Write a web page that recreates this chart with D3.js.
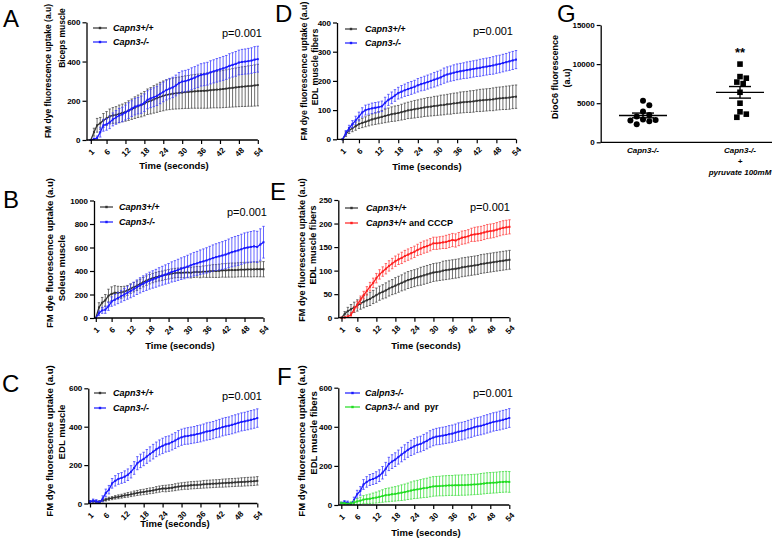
<!DOCTYPE html>
<html><head><meta charset="utf-8">
<script src="https://cdn.jsdelivr.net/npm/d3@7"></script>
<style>
body{margin:0;background:#fff}
svg{display:block}
text{font-family:"Liberation Sans",Arial,sans-serif}
</style>
</head><body>
<svg id="c" width="778" height="539"></svg>
<script>
// ---------- DATA ----------
const timePoints = d3.range(1, 55);
const xTickValues = [1,6,12,18,24,30,36,42,48,54];

// A: Biceps muscle
const bicepsWT   = [0,40,75,85,100,110,120,125,128,133, 138,143,150,157,165,172,178,185,195,200, 207,213,220,225,230,233,236,238,240,242, 244,245,247,248,249,250,251,252,254,256, 257,258,260,262,264,266,268,270,272,273, 275,276,278,280];
const bicepsWTsd = [0,20,35,30,35,35,38,40,42,45, 45,47,50,52,55,57,60,62,65,67, 70,72,74,76,77,78,79,80,81,82, 83,84,85,86,87,88,89,90,91,92, 93,94,95,96,97,98,99,100,101,102, 103,104,105,106];
const bicepsKO   = [0,5,10,40,75,80,90,105,115,125, 130,140,150,160,170,175,180,190,205,212, 218,225,235,245,255,262,268,278,290,298, 300,305,312,318,325,332,335,338,345,350, 355,360,365,370,378,383,388,395,398,400, 402,405,410,412];
const bicepsKOsd = [0,5,10,25,30,30,32,33,35,36, 37,38,40,40,42,42,44,45,46,47, 48,49,50,50,51,52,52,53,54,54, 55,55,56,56,57,57,58,58,59,59, 60,60,61,61,62,62,63,63,64,64, 65,65,66,66];

// B: Soleus muscle
const soleusWT   = [0,90,130,150,190,205,215,215,218,225, 235,250,262,275,290,305,318,330,340,348, 355,360,367,372,378,382,385,385,387,388, 385,390,393,390,395,395,398,400,400,402, 405,405,407,408,408,410,412,412,413,413, 414,415,415,415];
const soleusWTsd = [0,40,45,50,55,60,60,55,50,45, 42,40,40,40,40,40,40,40,40,40, 40,40,40,40,40,40,40,42,42,42, 44,45,46,47,48,50,52,54,55,56, 57,58,59,60,60,60,61,62,62,63, 63,64,64,65];
const soleusKO   = [0,40,65,70,100,140,155,170,185,200, 215,230,245,262,278,292,305,318,328,338, 350,360,370,380,392,400,410,420,428,438, 448,458,465,475,482,490,500,510,518,525, 532,540,550,560,568,575,585,595,600,605, 610,605,625,645];
const soleusKOsd = [0,20,25,30,35,40,45,48,50,52, 55,58,60,62,65,67,70,72,74,76, 78,80,82,84,86,88,90,92,94,96, 98,100,102,104,106,108,110,112,114,116, 118,120,122,124,126,127,128,129,130,131, 132,133,134,135];

// C: EDL muscle (KO series also shown in F)
const edlWT   = [10,12,8,10,15,20,25,28,32,35, 38,42,45,48,52,55,58,60,63,66, 68,72,75,78,78,80,82,85,88,90, 92,93,95,96,97,98,100,101,102,103, 104,105,106,107,108,109,110,111,112,113, 114,115,116,118];
const edlWTsd = [5,5,5,5,6,7,8,8,9,10, 10,11,12,12,13,13,14,14,15,15, 15,16,16,16,17,17,17,18,18,18, 18,19,19,19,19,19,20,20,20,20, 20,20,21,21,21,21,21,21,22,22, 22,22,22,22];
const edlKO   = [10,15,12,5,25,55,72,105,118,128, 133,140,150,165,185,210,222,232,245,258, 270,282,292,300,308,312,320,328,338,345, 350,352,355,358,362,365,370,375,378,382, 388,392,398,402,405,410,415,420,425,428, 432,436,440,445];
const edlKOsd = [5,8,8,8,15,20,22,25,27,28, 28,30,30,32,33,34,35,35,36,37, 38,38,39,40,40,40,41,41,42,42, 42,43,43,43,44,44,44,45,45,45, 45,46,46,46,46,47,47,47,47,47, 48,48,48,48];

// D: EDL muscle fibers
const fiberWT   = [0,18,30,38,45,52,56,60,64,68, 71,74,77,80,83,86,88,90,93,96, 99,101,103,105,107,109,111,112,114,115, 117,118,120,121,123,124,126,127,128,129, 130,132,133,134,135,136,137,139,140,141, 142,143,145,146];
const fiberWTsd = [0,8,10,12,14,15,16,17,18,19, 20,21,22,23,24,25,26,26,27,28, 28,29,30,30,31,31,32,32,33,33, 34,34,34,35,35,35,36,36,36,37, 37,37,38,38,38,38,39,39,39,39, 40,40,40,40];
const fiberKO   = [0,22,38,52,65,78,92,100,103,106, 108,110,113,125,135,142,150,158,163,168, 172,176,180,185,189,192,196,200,204,208, 212,218,222,225,228,231,233,235,237,239, 241,243,245,247,249,251,253,256,258,261, 264,267,270,273];
const fiberKOsd = [0,8,10,12,14,15,16,17,17,18, 18,18,18,19,19,20,20,20,21,21, 22,22,22,23,23,24,24,24,25,25, 25,26,26,26,27,27,27,27,28,28, 28,28,29,29,29,29,30,30,30,30, 30,31,31,31];

// E: CCCP
const ccWT    = [0,8,14,18,22,26,30,34,37,40, 44,48,52,55,58,62,65,68,71,74, 77,80,82,84,86,88,90,92,94,96, 97,98,100,101,102,103,104,105,107,108, 109,110,111,112,114,115,116,117,118,119, 120,121,122,123];
const ccWTsd  = [0,5,8,10,11,12,12,13,13,14, 14,15,15,15,16,16,16,17,17,17, 18,18,18,18,18,19,19,19,19,19, 19,19,20,20,20,20,20,20,20,20, 20,20,20,20,20,20,20,20,20,20, 20,20,20,20];
const ccCCCP   = [0,0,2,6,18,28,38,48,57,66, 74,84,92,98,104,110,115,120,124,127, 131,134,137,140,144,147,150,152,155,158, 158,159,160,161,163,165,164,167,170,171, 173,176,177,178,179,181,183,184,185,187, 189,191,192,193];
const ccCCCPsd = [0,2,3,5,6,7,8,8,9,9, 10,10,10,10,11,11,11,11,11,12, 12,12,12,12,12,13,13,13,13,13, 13,13,13,14,14,14,14,14,14,14, 14,14,15,15,15,15,15,15,15,15, 15,15,15,15];

// F: pyruvate
const pyrKO   = [10,8,5,8,12,18,22,28,30,32, 35,38,42,46,50,52,55,57,60,63, 66,70,74,78,80,83,86,88,92,95, 96,97,98,99,100,100,101,101,102,102, 103,104,105,106,108,110,112,113,114,115, 117,118,119,118];
const pyrKOsd = [5,5,5,8,10,14,18,20,22,24, 26,28,30,32,34,35,36,37,38,40, 41,42,44,45,46,47,48,49,50,50, 50,50,51,51,51,51,52,52,52,52, 52,52,52,52,53,53,53,53,53,53, 53,53,53,53];

// G: DioC6
const gCategories = ["Capn3-/-", "Capn3-/- + pyruvate 100mM"];
const gYTicks = [0, 5000, 10000, 15000];
const dioc6KO  = [5300,4750,3950,3500,3300,2900,2850,2800,2700,2300];
const dioc6Pyr = [10000,8400,8200,7700,7500,6400,5000,3900,3600,3200];

// ---------- DRAW ----------
const svg = d3.select("#c");
const FONT = '"Liberation Sans",Arial,sans-serif';
const C = {
  black: "#333333", blackBar: "#4a4a4a",
  blue: "#1a1aff", blueBar: "#4040ff",
  red: "#ff2020", redBar: "#ff4545",
  green: "#22dd22", greenBar: "#44e044"
};

const panels = [
  {letter:"A", lx:3, ly:27, axisX:86.5, x1:90.8, x54:257.8, y0:140, yTop:22.3, ymax:600, yticks:[0,200,400,600],
   t1:{x:48, y:71, fs:8.5}, t2:{x:61.5, y:38, text:"Biceps muscle"}, timeY:168.5, timeX:174,
   p:{x:262, y:37}, leg:{x1:93, x2:107, tx:113, ys:[28,42]},
   series:[{m:bicepsWT, s:bicepsWTsd, c:C.black, b:C.blackBar},{m:bicepsKO, s:bicepsKOsd, c:C.blue, b:C.blueBar}],
   legend:[[{t:"Capn3+/+", i:true}],[{t:"Capn3-/-", i:true}]]},
  {letter:"B", lx:3, ly:208, axisX:94, x1:95.8, x54:263.5, y0:318, yTop:200.5, ymax:1000, yticks:[0,200,400,600,800,1000],
   t1:{x:49.3, y:253, fs:9.5}, t2:{x:61.5, y:268, text:"Soleus muscle"}, timeY:348.5, timeX:180,
   p:{x:267, y:216}, leg:{x1:100, x2:113, tx:119, ys:[207,222]},
   series:[{m:soleusWT, s:soleusWTsd, c:C.black, b:C.blackBar},{m:soleusKO, s:soleusKOsd, c:C.blue, b:C.blueBar}],
   legend:[[{t:"Capn3+/+", i:true}],[{t:"Capn3-/-", i:true}]]},
  {letter:"C", lx:2, ly:392, axisX:88.3, x1:90, x54:257.3, y0:503.5, yTop:388.3, ymax:600, yticks:[0,200,400,600],
   t1:{x:49.3, y:441, fs:9.6}, t2:{x:61.5, y:432, text:"EDL muscle"}, timeY:526.5, timeX:175,
   p:{x:262, y:400}, leg:{x1:94, x2:106, tx:113, ys:[393,408]},
   series:[{m:edlWT, s:edlWTsd, c:C.black, b:C.blackBar},{m:edlKO, s:edlKOsd, c:C.blue, b:C.blueBar}],
   legend:[[{t:"Capn3+/+", i:true}],[{t:"Capn3-/-", i:true}]]},
  {letter:"D", lx:275, ly:22, axisX:337, x1:342.6, x54:516, y0:139.3, yTop:22.5, ymax:400, yticks:[0,100,200,300,400],
   t1:{x:303.5, y:71, fs:8.8}, t2:{x:315, y:67, text:"EDL muscle fibers"}, timeY:169.5, timeX:427,
   p:{x:513, y:35}, leg:{x1:345, x2:357, tx:365, ys:[29,43]},
   series:[{m:fiberWT, s:fiberWTsd, c:C.black, b:C.blackBar},{m:fiberKO, s:fiberKOsd, c:C.blue, b:C.blueBar}],
   legend:[[{t:"Capn3+/+", i:true}],[{t:"Capn3-/-", i:true}]]},
  {letter:"E", lx:270, ly:200, axisX:338.3, x1:341.5, x54:509.5, y0:317.7, yTop:200, ymax:250, yticks:[0,50,100,150,200,250],
   t1:{x:301.7, y:250, fs:9.1}, t2:{x:313.3, y:245, text:"EDL muscle fibers"}, timeY:348.5, timeX:426,
   p:{x:510, y:211}, leg:{x1:345, x2:358, tx:366, ys:[208,223]},
   series:[{m:ccWT, s:ccWTsd, c:C.black, b:C.blackBar},{m:ccCCCP, s:ccCCCPsd, c:C.red, b:C.redBar}],
   legend:[[{t:"Capn3+/+", i:true}],[{t:"Capn3+/+", i:true},{t:" and CCCP", i:false}]]},
  {letter:"F", lx:277, ly:385, axisX:338.3, x1:341.3, x54:509.3, y0:505, yTop:387.7, ymax:600, yticks:[0,200,400,600],
   t1:{x:301.7, y:441, fs:9.6}, t2:{x:313.3, y:433, text:"EDL muscle fibers"}, timeY:535.5, timeX:426,
   p:{x:513, y:397}, leg:{x1:345, x2:360, tx:365, ys:[393,407]},
   series:[{m:edlKO, s:edlKOsd, c:C.blue, b:C.blueBar},{m:pyrKO, s:pyrKOsd, c:C.green, b:C.greenBar}],
   legend:[[{t:"Calpn3-/-", i:true}],[{t:"Capn3-/-", i:true},{t:" and  pyr", i:false}]]}
];

function drawPanel(P) {
  const g = svg.append("g");
  const x = d3.scaleLinear().domain([1, 54]).range([P.x1, P.x54]);
  const y = d3.scaleLinear().domain([0, P.ymax]).range([P.y0, P.yTop]);

  // series
  P.series.forEach(S => {
    const pts = timePoints.map((t, i) => ({t, m: S.m[i], s: S.s[i]}));
    const eb = g.append("g").attr("stroke", S.b).attr("stroke-width", 0.8);
    eb.selectAll("line.v").data(pts).join("line")
      .attr("x1", d => x(d.t)).attr("x2", d => x(d.t))
      .attr("y1", d => y(Math.max(0, d.m - d.s))).attr("y2", d => y(d.m + d.s));
    eb.selectAll("line.t").data(pts).join("line")
      .attr("x1", d => x(d.t) - 1.2).attr("x2", d => x(d.t) + 1.2)
      .attr("y1", d => y(d.m + d.s)).attr("y2", d => y(d.m + d.s));
    eb.selectAll("line.b").data(pts.filter(d => d.m - d.s > 0)).join("line")
      .attr("x1", d => x(d.t) - 1.2).attr("x2", d => x(d.t) + 1.2)
      .attr("y1", d => y(d.m - d.s)).attr("y2", d => y(d.m - d.s));
    g.append("path").datum(pts)
      .attr("fill", "none").attr("stroke", S.c).attr("stroke-width", 1.3)
      .attr("d", d3.line().x(d => x(d.t)).y(d => y(d.m)));
    g.append("g").selectAll("rect").data(pts).join("rect")
      .attr("x", d => x(d.t) - 1).attr("y", d => y(d.m) - 1)
      .attr("width", 2).attr("height", 2).attr("fill", S.c);
  });

  // axes
  const ya = g.append("g").attr("transform", `translate(${P.axisX},0)`)
    .call(d3.axisLeft(y).tickValues(P.yticks).tickFormat(d3.format("d")).tickSize(4).tickSizeOuter(0).tickPadding(2));
  ya.select(".domain").attr("stroke-width", 1.3);
  ya.selectAll(".tick line").attr("stroke-width", 1.2);
  ya.selectAll("text").attr("font-size", 8).attr("font-weight", "bold").attr("font-family", FONT);

  const xa = g.append("g").attr("transform", `translate(0,${P.y0})`)
    .call(d3.axisBottom(x).tickValues(xTickValues).tickFormat(d3.format("d")).tickSize(4).tickSizeOuter(0));
  xa.select(".domain").remove();
  xa.selectAll(".tick line").attr("stroke-width", 1.2);
  xa.selectAll(".tick text")
    .attr("font-size", 8).attr("font-weight", "bold").attr("font-family", FONT)
    .attr("y", 0).attr("dy", "0.35em")
    .attr("text-anchor", "middle")
    .attr("transform", "translate(0,12) rotate(-45)");
  g.append("line").attr("x1", P.axisX).attr("x2", P.x54)
    .attr("y1", P.y0).attr("y2", P.y0).attr("stroke", "#000").attr("stroke-width", 1.3);

  // titles
  g.append("text").attr("transform", `translate(${P.t1.x},${P.t1.y}) rotate(-90)`)
    .attr("text-anchor", "middle").attr("dominant-baseline", "central")
    .attr("font-size", P.t1.fs).attr("font-weight", "bold").text("FM dye fluorescence uptake (a.u)");
  g.append("text").attr("transform", `translate(${P.t2.x},${P.t2.y}) rotate(-90)`)
    .attr("text-anchor", "middle").attr("dominant-baseline", "central")
    .attr("font-size", P.t1.fs).attr("font-weight", "bold").text(P.t2.text);
  g.append("text").attr("x", P.timeX).attr("y", P.timeY).attr("text-anchor", "middle")
    .attr("font-size", 9.5).attr("font-weight", "bold").text("Time (seconds)");

  // p value
  g.append("text").attr("x", P.p.x).attr("y", P.p.y).attr("text-anchor", "end")
    .attr("font-size", 11).text("p=0.001");

  // legend
  P.legend.forEach((parts, i) => {
    const ly = P.leg.ys[i];
    const S = P.series[i];
    g.append("line").attr("x1", P.leg.x1).attr("x2", P.leg.x2).attr("y1", ly).attr("y2", ly)
      .attr("stroke", S.c).attr("stroke-width", 1.2);
    g.append("rect").attr("x", (P.leg.x1 + P.leg.x2) / 2 - 1.2).attr("y", ly - 1.2)
      .attr("width", 2.4).attr("height", 2.4).attr("fill", S.c);
    const t = g.append("text").attr("x", P.leg.tx).attr("y", ly + 3.2)
      .attr("font-size", 9).attr("font-weight", "bold");
    parts.forEach(p => t.append("tspan").attr("font-style", p.i ? "italic" : "normal")
      .attr("xml:space", "preserve").text(p.t));
  });

  // panel letter
  svg.append("text").attr("x", P.lx).attr("y", P.ly).attr("font-size", 24).text(P.letter);
}
panels.forEach(drawPanel);

// ---------- Panel G ----------
(function () {
  const g = svg.append("g");
  const axisX = 600.7, y0 = 142.3;
  const x = d3.scalePoint().domain(gCategories).range([643, 740]);
  const y = d3.scaleLinear().domain([0, 15000]).range([y0, 25]);

  function swarm(vals, r) {
    const placed = [];
    const sorted = vals.map((v, i) => ({v, i})).sort((a, b) => b.v - a.v);
    sorted.forEach(p => {
      const py = y(p.v);
      const cands = [0];
      for (let k = 1; k < 10; k++) cands.push(k * r * 1.05, -k * r * 1.05);
      for (const dx of cands) {
        if (placed.every(q => Math.hypot(q.dx - dx, q.py - py) >= 2 * r)) {
          placed.push({v: p.v, py, dx}); break;
        }
      }
    });
    return placed;
  }

  const groups = [{cat: gCategories[0], vals: dioc6KO, shape: "circle"},
                  {cat: gCategories[1], vals: dioc6Pyr, shape: "square"}];
  groups.forEach(G => {
    const cx = x(G.cat);
    const pts = swarm(G.vals, 3);
    if (G.shape === "circle") {
      g.selectAll(null).data(pts).join("circle")
        .attr("cx", d => cx + d.dx).attr("cy", d => d.py).attr("r", 3).attr("fill", "#000");
    } else {
      g.selectAll(null).data(pts).join("rect")
        .attr("x", d => cx + d.dx - 2.8).attr("y", d => d.py - 2.8)
        .attr("width", 5.6).attr("height", 5.6).attr("fill", "#000");
    }
    const mean = d3.mean(G.vals);
    const sem = d3.deviation(G.vals) / Math.sqrt(G.vals.length);
    const ln = (x1, x2, y1, y2) => g.append("line").attr("x1", x1).attr("x2", x2).attr("y1", y1).attr("y2", y2)
      .attr("stroke", "#000").attr("stroke-width", 1.4);
    ln(cx - 24, cx + 24, y(mean), y(mean));
    ln(cx - 11, cx + 11, y(mean + sem), y(mean + sem));
    ln(cx - 11, cx + 11, y(mean - sem), y(mean - sem));
    ln(cx, cx, y(mean - sem), y(mean + sem));
  });

  const ya = g.append("g").attr("transform", `translate(${axisX},0)`)
    .call(d3.axisLeft(y).tickValues(gYTicks).tickFormat(d3.format("d")).tickSize(4).tickSizeOuter(0).tickPadding(2));
  ya.select(".domain").attr("stroke-width", 1.3);
  ya.selectAll(".tick line").attr("stroke-width", 1.2);
  ya.selectAll("text").attr("font-size", 8).attr("font-weight", "bold").attr("font-family", FONT);
  g.append("line").attr("x1", axisX).attr("x2", 772).attr("y1", y0).attr("y2", y0)
    .attr("stroke", "#000").attr("stroke-width", 1.3);

  g.append("text").attr("x", x(gCategories[1])).attr("y", 57).attr("text-anchor", "middle")
    .attr("font-size", 13).attr("font-weight", "bold").text("**");

  const lab = (xx, yy, t) => g.append("text").attr("x", xx).attr("y", yy).attr("text-anchor", "middle")
    .attr("font-size", 8).attr("font-weight", "bold").attr("font-style", "italic").text(t);
  lab(x(gCategories[0]), 153, "Capn3-/-");
  lab(x(gCategories[1]), 153, "Capn3-/-");
  lab(x(gCategories[1]), 164, "+");
  lab(x(gCategories[1]), 175, "pyruvate 100mM");

  g.append("text").attr("transform", "translate(555,77) rotate(-90)").attr("text-anchor", "middle")
    .attr("dominant-baseline", "central").attr("font-size", 9).attr("font-weight", "bold").text("DioC6 fluorescence");
  g.append("text").attr("transform", "translate(567,78) rotate(-90)").attr("text-anchor", "middle")
    .attr("dominant-baseline", "central").attr("font-size", 9).attr("font-weight", "bold").text("(a.u)");

  svg.append("text").attr("x", 557).attr("y", 22).attr("font-size", 24).text("G");
})();
</script>
</body></html>
